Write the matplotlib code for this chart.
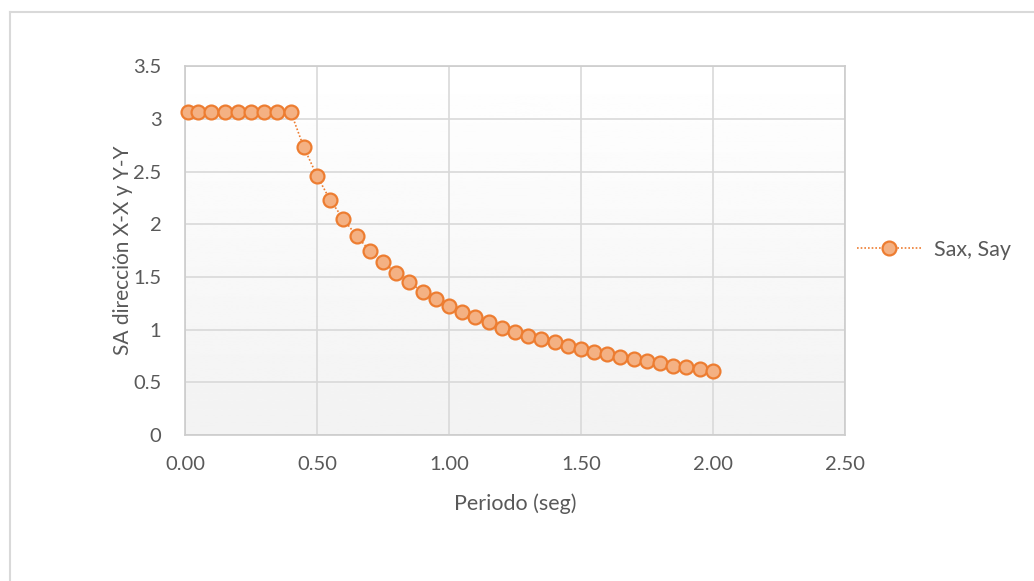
import numpy as np
import matplotlib.pyplot as plt
from matplotlib.lines import Line2D

# Spectrum data
periodo = [0.01, 0.05, 0.10, 0.15, 0.20, 0.25, 0.30, 0.35, 0.40,
           0.45, 0.50, 0.55, 0.60, 0.65, 0.70, 0.75, 0.80, 0.85, 0.90,
           0.95, 1.00, 1.05, 1.10, 1.15, 1.20, 1.25, 1.30, 1.35, 1.40,
           1.45, 1.50, 1.55, 1.60, 1.65, 1.70, 1.75, 1.80, 1.85, 1.90,
           1.95, 2.00]
sa = [3.07, 3.07, 3.07, 3.07, 3.07, 3.07, 3.07, 3.07, 3.07,
      2.73, 2.46, 2.23, 2.05, 1.89, 1.75, 1.64, 1.54, 1.45, 1.36,
      1.29, 1.23, 1.17, 1.12, 1.07, 1.02, 0.98, 0.94, 0.91, 0.88,
      0.85, 0.82, 0.79, 0.77, 0.74, 0.72, 0.70, 0.68, 0.66, 0.65,
      0.63, 0.61]

x_ticks = [0.0, 0.5, 1.0, 1.5, 2.0, 2.5]
y_ticks = [0, 0.5, 1, 1.5, 2, 2.5, 3, 3.5]
y_ticklabels = ["0", "0.5", "1", "1.5", "2", "2.5", "3", "3.5"]

TEXT = "#595959"
GRID = "#d9d9d9"
EDGE = "#ed7d31"
FILL = "#f4b183"

plt.rcParams["font.family"] = ["Lato", "DejaVu Sans"]

fig = plt.figure(figsize=(10.34, 5.81), dpi=100)
ax = fig.add_axes([0.179, 0.251, 0.638, 0.635])

# background gradient: white on top, light gray at the bottom
grad = np.linspace(0.95, 1.0, 256).reshape(-1, 1)
ax.imshow(grad, extent=[0, 2.5, 0, 3.5], origin="lower", aspect="auto",
          cmap="gray", vmin=0, vmax=1, zorder=0)

ax.plot(periodo, sa, linestyle=(0, (1, 1.2)), color=EDGE, linewidth=1.2,
        marker="o", markersize=10, markerfacecolor=FILL,
        markeredgecolor=EDGE, markeredgewidth=1.6, zorder=3,
        clip_on=False)

ax.set_xlim(0, 2.5)
ax.set_ylim(0, 3.5)
ax.set_xticks(x_ticks)
ax.set_xticklabels([f"{v:.2f}" for v in x_ticks])
ax.set_yticks(y_ticks)
ax.set_yticklabels(y_ticklabels)
ax.tick_params(axis="x", length=0, labelsize=14.5, labelcolor=TEXT, pad=15)
ax.tick_params(axis="y", length=0, labelsize=14.5, labelcolor=TEXT, pad=17)
ax.grid(True, color=GRID, linewidth=1.2, zorder=1)
ax.set_axisbelow(True)
for sp in ax.spines.values():
    sp.set_color("#cccccc")
    sp.set_linewidth(1.2)

ax.set_xlabel("Periodo (seg)", fontsize=15.5, color=TEXT, labelpad=15)
ax.set_ylabel("SA dirección X-X y Y-Y", fontsize=15, color=TEXT, labelpad=0)

handle = Line2D([], [], linestyle=(0, (1, 1.2)), color=EDGE, linewidth=1.2,
                marker="o", markersize=10, markerfacecolor=FILL,
                markeredgecolor=EDGE, markeredgewidth=1.6)
fig.legend([handle], ["Sax, Say"], loc="center left",
           bbox_to_anchor=(0.81, 0.57), frameon=False, fontsize=15.5,
           labelcolor=TEXT, handlelength=3.0, handletextpad=0.6)

# outer chart frame (left and top edges visible)
fig.add_artist(Line2D([10 / 1034, 1.0], [1 - 12 / 581, 1 - 12 / 581],
                      transform=fig.transFigure, color="#d9d9d9", linewidth=1.5))
fig.add_artist(Line2D([10 / 1034, 10 / 1034], [0.0, 1 - 12 / 581],
                      transform=fig.transFigure, color="#d9d9d9", linewidth=1.5))

fig.savefig("out.png", dpi=100)
